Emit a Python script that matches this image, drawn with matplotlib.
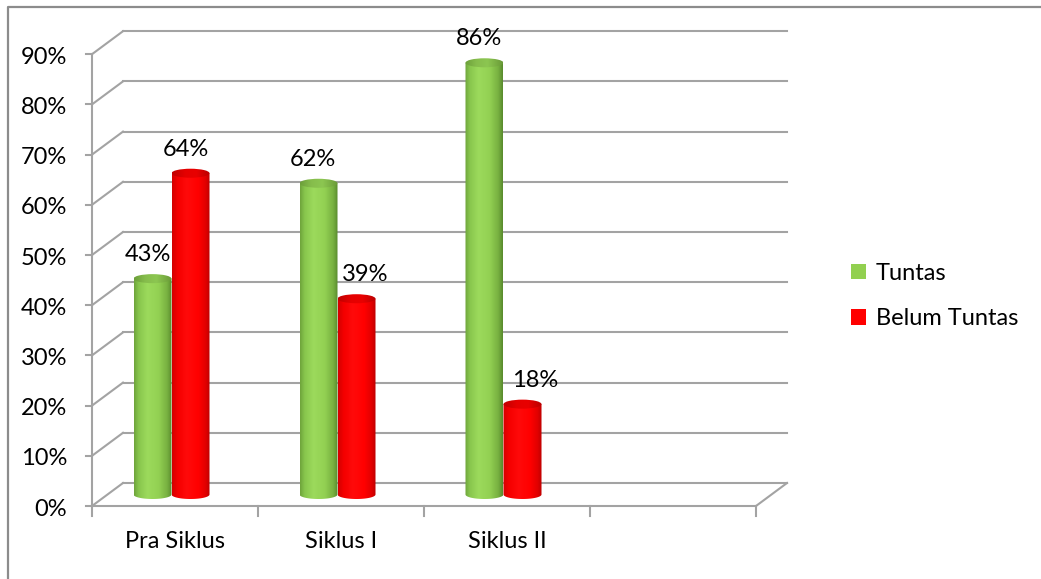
import numpy as np
import matplotlib
matplotlib.use("Agg")
import matplotlib.pyplot as plt
from matplotlib.patches import Ellipse, PathPatch, Rectangle, Patch
from matplotlib.path import Path
from matplotlib.colors import to_rgb

# ---------------- data ----------------
categories = ["Pra Siklus", "Siklus I", "Siklus II", ""]
series_names = ["Tuntas", "Belum Tuntas"]
tuntas = [43, 62, 86]
belum_tuntas = [64, 39, 18]
y_ticks = [0, 10, 20, 30, 40, 50, 60, 70, 80, 90]
y_tick_labels = [f"{t}%" for t in y_ticks]

# ---------------- figure / coordinate system ----------------
W, H = 1041, 579
fig = plt.figure(figsize=(W / 100, H / 100), dpi=100)
ax = fig.add_axes([0, 0, 1, 1])
ax.set_axis_off()

X0, XS = 92.0, 166.0      # px of category 0, px per category
Y0, YS = 506.0, 5.02      # px of 0% (front), px per percent
ax.set_xlim(-X0 / XS, (W - X0) / XS)
ax.set_ylim((Y0 - H) / YS, Y0 / YS)

DX = 31 / XS              # depth offset (x)
DV = 23 / YS              # depth offset (y)
FONT = "Lato"
FS = 17
grid_c = "#A3A3A3"
ncat = len(categories)

# outer frame
ax.plot([8 / XS - X0 / XS, 8 / XS - X0 / XS, (W + 5 - X0) / XS],
        [(Y0 - H - 5) / YS, (Y0 - 7) / YS, (Y0 - 7) / YS],
        color="#8C8C8C", lw=1.6, solid_capstyle="butt", zorder=1)

# back wall gridlines and left-side diagonals
for t, lab in zip(y_ticks, y_tick_labels):
    ax.plot([DX, ncat + DX], [t + DV, t + DV], color=grid_c, lw=1.5, zorder=1)
    ax.plot([0, DX], [t, t + DV], color=grid_c, lw=1.5, zorder=1)
    ax.plot([-6 / XS, 0], [t, t], color=grid_c, lw=1.5, zorder=1)
    ax.text(-25 / XS, t - 0.6, lab, ha="right", va="center",
            fontsize=FS, family=FONT, color="black")
# front axis and floor
ax.plot([0, 0], [0, y_ticks[-1]], color=grid_c, lw=1.5, zorder=1)
ax.plot([0, ncat], [0, 0], color=grid_c, lw=1.5, zorder=1)
ax.plot([ncat, ncat + DX], [0, DV], color=grid_c, lw=1.5, zorder=1)
for i in range(ncat + 1):
    ax.plot([i, i], [0, -10 / YS], color=grid_c, lw=1.5, zorder=1)
for i, c in enumerate(categories):
    ax.text(i + 0.5, -35 / YS, c, ha="center", va="center",
            fontsize=FS, family=FONT, color="black")


def grad_img(stops, n=64):
    pos = np.array([s[0] for s in stops])
    cols = np.array([to_rgb(s[1]) for s in stops])
    xs = np.linspace(0, 1, n)
    img = np.stack([np.interp(xs, pos, cols[:, k]) for k in range(3)], axis=-1)
    return img[np.newaxis, :, :]


green_body = [(0, "#6FA53C"), (0.12, "#88C64D"), (0.35, "#9CDA5C"),
              (0.65, "#93D153"), (0.88, "#78B141"), (1, "#5A8C2E")]
green_top = [(0, "#6C9F3A"), (0.3, "#86BD4C"), (0.6, "#8CC651"), (1, "#6A9A38")]
red_body = [(0, "#D40000"), (0.15, "#F50000"), (0.4, "#FF0A0A"),
            (0.7, "#FF0000"), (0.9, "#E00000"), (1, "#BE0000")]
red_top = [(0, "#C00000"), (0.35, "#E50000"), (0.65, "#E80000"), (1, "#BA0000")]

BW = 38 / XS               # bar width
EH = 9 / YS                # ellipse height
base = DV / 2


def cylinder(xc, value, body, top):
    xl, xr = xc - BW / 2, xc + BW / 2
    ytop = base + value
    th = np.linspace(np.pi, 2 * np.pi, 40)
    ex = xc + BW / 2 * np.cos(th)
    ey = base + EH / 2 * np.sin(th)
    verts = [(xl, ytop)] + list(zip(ex, ey)) + [(xr, ytop), (xl, ytop)]
    codes = [Path.MOVETO] + [Path.LINETO] * (len(verts) - 2) + [Path.CLOSEPOLY]
    patch = PathPatch(Path(verts, codes), facecolor="none", edgecolor="none", zorder=3)
    ax.add_patch(patch)
    im = ax.imshow(grad_img(body), extent=[xl, xr, base - EH, ytop],
                   aspect="auto", interpolation="bilinear", zorder=3)
    im.set_clip_path(patch)
    el = Ellipse((xc, ytop), BW, EH, facecolor="none", edgecolor="none", zorder=4)
    ax.add_patch(el)
    im2 = ax.imshow(grad_img(top), extent=[xl, xr, ytop - EH, ytop + EH],
                    aspect="auto", interpolation="bilinear", zorder=4)
    im2.set_clip_path(el)


centre = 0.5 + DX / 2
label_shift = {(0, 0): -5, (0, 1): -5, (1, 0): -6, (1, 1): 9, (2, 0): -5, (2, 1): 13}
for s, (vals, body, top) in enumerate([(tuntas, green_body, green_top),
                                        (belum_tuntas, red_body, red_top)]):
    for i, v in enumerate(vals):
        xc = i + centre + (s - 1) * BW
        cylinder(xc, v, body, top)
        ax.text(xc + label_shift[(i, s)] / XS, base + v + 24 / YS, f"{v}%",
                ha="center", va="center", fontsize=FS, family=FONT,
                color="black", zorder=5)

ax.set_xlim(-X0 / XS, (W - X0) / XS)
ax.set_ylim((Y0 - H) / YS, Y0 / YS)

handles = [Patch(facecolor="#92D050", edgecolor="none"),
           Patch(facecolor="#FF0000", edgecolor="none")]
leg = ax.legend(handles, series_names, loc="center left",
                bbox_to_anchor=(851 / W, 1 - 296 / H), bbox_transform=fig.transFigure,
                frameon=False, prop={"family": FONT, "size": FS},
                handlelength=0.64, handleheight=0.64, handletextpad=0.4,
                labelspacing=1.05, borderpad=0, borderaxespad=0)

fig.savefig("out.png", dpi=100)
